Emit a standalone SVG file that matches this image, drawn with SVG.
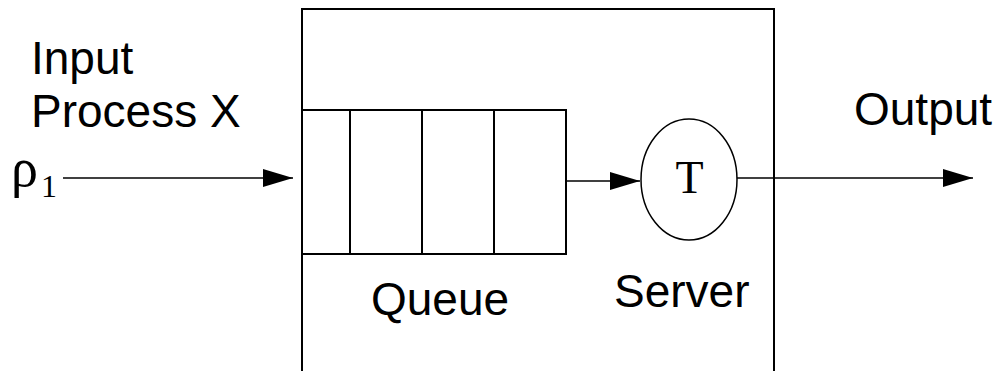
<svg xmlns="http://www.w3.org/2000/svg" width="1006" height="371" viewBox="0 0 1006 371">
  <style>
    .box { fill: none; stroke: #000; stroke-width: 2; }
    .cell { fill: none; stroke: #000; stroke-width: 2; }
    .wire { fill: none; stroke: #000; stroke-width: 1.5; }
    .label { font-family: "Liberation Sans", Arial, sans-serif; font-size: 46px; fill: #000; }
    .sym { font-family: "Liberation Serif", "Times New Roman", serif; fill: #000; }
  </style>
  <defs>
    <marker id="head" markerWidth="30" markerHeight="18" refX="30" refY="9" orient="auto" markerUnits="userSpaceOnUse">
      <path d="M0,0 L30,9 L0,18 Z" fill="#000"/>
    </marker>
  </defs>

  <!-- system boundary, open at the bottom -->
  <g id="system">
    <path class="box" d="M302,380 V9 H774 V380"/>
  </g>

  <!-- waiting line with four slots -->
  <g id="queue">
    <rect class="cell" x="302" y="110" width="264" height="144"/>
    <line class="cell" x1="350" y1="110" x2="350" y2="254"/>
    <line class="cell" x1="422" y1="110" x2="422" y2="254"/>
    <line class="cell" x1="494" y1="110" x2="494" y2="254"/>
    <text class="label" x="371" y="315">Queue</text>
  </g>

  <!-- service station -->
  <g id="server">
    <ellipse cx="689" cy="179.5" rx="48" ry="60.5" fill="none" stroke="#000" stroke-width="1.5"/>
    <text class="sym" x="689.5" y="193" font-size="46" text-anchor="middle">T</text>
    <text class="label" x="614" y="307">Server</text>
  </g>

  <g id="input">
    <text class="label" x="31" y="74">Input</text>
    <text class="label" x="31" y="127">Process X</text>
    <text class="sym" x="11" y="186" font-size="54">ρ<tspan font-size="32" dx="3" dy="11">1</tspan></text>
  </g>

  <g id="output">
    <text class="label" x="854" y="125">Output</text>
  </g>

  <g id="connectors">
    <line class="wire" x1="63" y1="178" x2="293" y2="178" marker-end="url(#head)"/>
    <line class="wire" x1="566" y1="181" x2="640" y2="181" marker-end="url(#head)"/>
    <line class="wire" x1="737" y1="178" x2="973" y2="178" marker-end="url(#head)"/>
  </g>
</svg>
